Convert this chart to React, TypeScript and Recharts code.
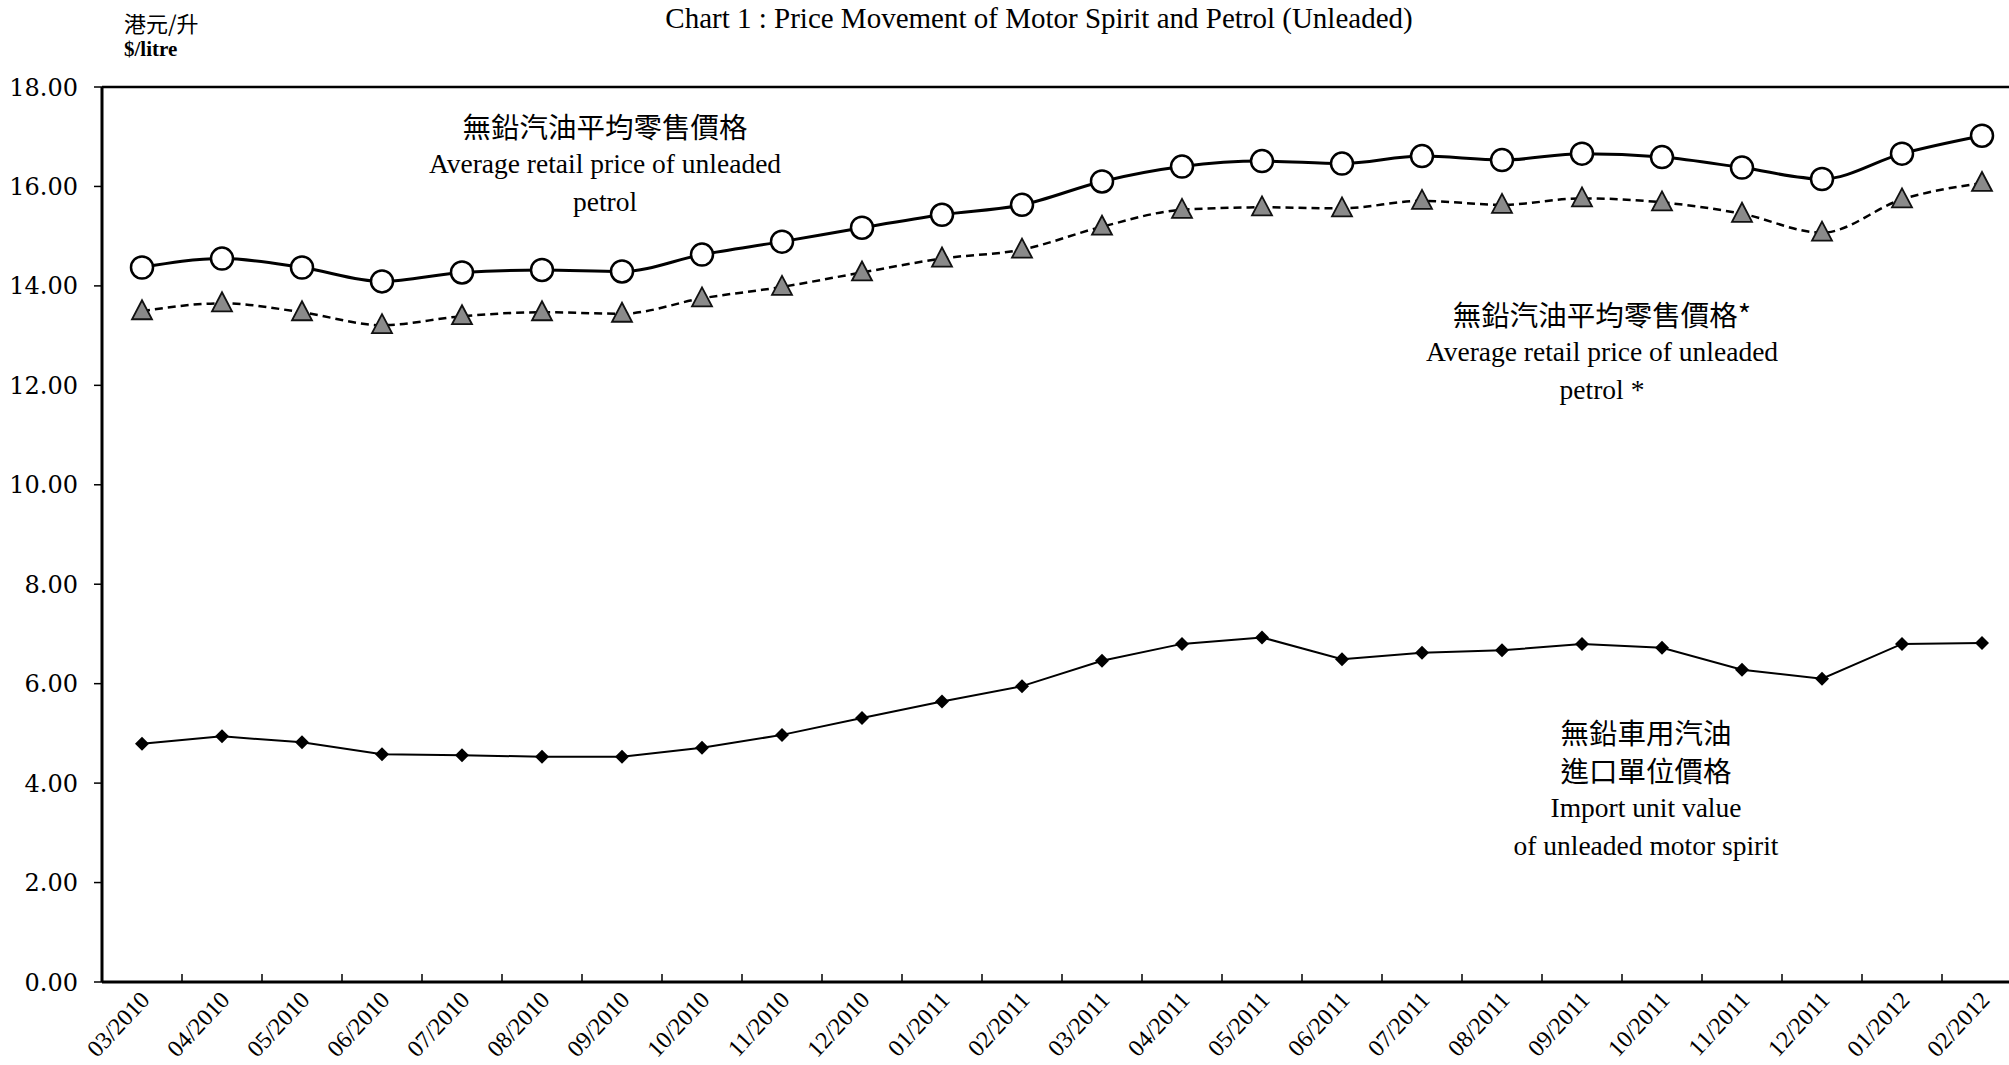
import React from 'react'
import {
  LineChart, Line, XAxis, YAxis, ReferenceLine,
} from 'recharts'

const months = [
  '03/2010', '04/2010', '05/2010', '06/2010', '07/2010', '08/2010', '09/2010', '10/2010',
  '11/2010', '12/2010', '01/2011', '02/2011', '03/2011', '04/2011', '05/2011', '06/2011',
  '07/2011', '08/2011', '09/2011', '10/2011', '11/2011', '12/2011', '01/2012', '02/2012',
]

// 無鉛汽油平均零售價格
const retailPrice = [
  14.37, 14.55, 14.37, 14.09, 14.27, 14.32, 14.29, 14.63,
  14.89, 15.17, 15.43, 15.63, 16.10, 16.40, 16.51, 16.46,
  16.61, 16.53, 16.66, 16.59, 16.38, 16.15, 16.66, 17.02,
]

// 無鉛汽油平均零售價格*
const retailPriceStar = [
  13.49, 13.65, 13.47, 13.21, 13.39, 13.47, 13.44, 13.75,
  13.98, 14.27, 14.55, 14.73, 15.19, 15.53, 15.58, 15.56,
  15.71, 15.63, 15.76, 15.68, 15.45, 15.07, 15.74, 16.07,
]

// 無鉛車用汽油進口單位價格
const importValue = [
  4.79, 4.94, 4.82, 4.58, 4.56, 4.53, 4.53, 4.71,
  4.97, 5.31, 5.64, 5.95, 6.46, 6.80, 6.93, 6.49,
  6.62, 6.67, 6.80, 6.72, 6.28, 6.10, 6.80, 6.82,
]

const yTicks = [0, 2, 4, 6, 8, 10, 12, 14, 16, 18]

const data = months.map((m, i) => ({
  month: m,
  retail: retailPrice[i],
  retailStar: retailPriceStar[i],
  imported: importValue[i],
}))

const CHART_W = 2030
const CHART_H = 1065
const Y_W = 102
const PLOT_W = CHART_W - Y_W - 8
const BAND = PLOT_W / months.length

const serif = '"Liberation Serif", "Times New Roman", serif'
const cjk = '"Noto Sans CJK TC", "Noto Sans CJK SC", sans-serif'

const MonthTick = (props: any) => {
  const { x, y, payload } = props
  const tx = x + 9
  const ty = y + 19
  return (
    <g>
      <line x1={x + BAND / 2} y1={y} x2={x + BAND / 2} y2={y - 8} stroke="#000" strokeWidth={1.5} />
      <text
        x={tx}
        y={ty}
        textAnchor="end"
        transform={`rotate(-47, ${tx}, ${ty})`}
        fontFamily={serif}
        fontSize={24}
        fill="#000"
      >
        {payload.value}
      </text>
    </g>
  )
}

const CircleDot = (props: any) => {
  const { cx, cy, index } = props
  if (cx == null || cy == null) return null
  return <circle key={`c-${index}`} cx={cx} cy={cy} r={11} fill="#fff" stroke="#000" strokeWidth={2.5} />
}

const TriangleDot = (props: any) => {
  const { cx, cy, index } = props
  if (cx == null || cy == null) return null
  return (
    <path
      key={`t-${index}`}
      d={`M${cx},${cy - 11} L${cx + 10},${cy + 8} L${cx - 10},${cy + 8} Z`}
      fill="#8a8a8a"
      stroke="#111"
      strokeWidth={1.8}
    />
  )
}

const DiamondDot = (props: any) => {
  const { cx, cy, index } = props
  if (cx == null || cy == null) return null
  return (
    <path
      key={`d-${index}`}
      d={`M${cx},${cy - 7} L${cx + 7},${cy} L${cx},${cy + 7} L${cx - 7},${cy} Z`}
      fill="#000"
    />
  )
}

const noteStyle: React.CSSProperties = {
  position: 'absolute', width: 600, textAlign: 'center',
  fontSize: 27.5, lineHeight: '38px', color: '#000', fontFamily: serif,
}

const cjkLine: React.CSSProperties = { fontFamily: cjk, fontSize: 28.5 }

export default function App() {
  return (
    <div style={{
      position: 'absolute', left: 0, top: 0, width: 2009, height: 1065,
      overflow: 'hidden', background: '#fff',
    }}>
      <LineChart
        width={CHART_W}
        height={CHART_H}
        data={data}
        margin={{ top: 87, right: 8, left: 0, bottom: 0 }}
      >
        <XAxis
          dataKey="month"
          height={83}
          padding={{ left: BAND / 2, right: BAND / 2 }}
          interval={0}
          tickLine={false}
          tickSize={0}
          tickMargin={0}
          axisLine={{ stroke: '#000', strokeWidth: 3 }}
          tick={<MonthTick />}
        />
        <YAxis
          width={Y_W}
          domain={[0, 18]}
          ticks={yTicks}
          interval={0}
          tickFormatter={(v: number) => v.toFixed(2)}
          tickSize={8}
          tickMargin={16}
          tickLine={{ stroke: '#000', strokeWidth: 1.5 }}
          axisLine={{ stroke: '#000', strokeWidth: 3 }}
          tick={{ fontFamily: '"DejaVu Serif", serif', fontSize: 24, fill: '#000' }}
        />
        <ReferenceLine y={18} stroke="#000" strokeWidth={2.5} />
        <Line
          type="monotone"
          dataKey="retailStar"
          stroke="#000"
          strokeWidth={2.5}
          strokeDasharray="8 5"
          dot={<TriangleDot />}
          isAnimationActive={false}
        />
        <Line
          type="monotone"
          dataKey="retail"
          stroke="#000"
          strokeWidth={3}
          dot={<CircleDot />}
          isAnimationActive={false}
        />
        <Line
          type="linear"
          dataKey="imported"
          stroke="#000"
          strokeWidth={2}
          dot={<DiamondDot />}
          isAnimationActive={false}
        />
      </LineChart>

      {/* 標題 */}
      <div style={{
        position: 'absolute', left: 539, top: 0, width: 1000, textAlign: 'center',
        fontFamily: serif, fontSize: 29, lineHeight: '36px', color: '#000',
      }}>
        Chart 1 : Price Movement of Motor Spirit and Petrol (Unleaded)
      </div>

      {/* 單位 */}
      <div style={{ position: 'absolute', left: 124, top: 9, fontFamily: cjk, fontSize: 22, lineHeight: '26px' }}>
        港元/升
      </div>
      <div style={{ position: 'absolute', left: 124, top: 36, fontFamily: serif, fontSize: 21, fontWeight: 700, lineHeight: '26px' }}>
        $/litre
      </div>

      {/* 註釋 */}
      <div style={{ ...noteStyle, left: 605 - 300, top: 107 }}>
        <div style={cjkLine}>無鉛汽油平均零售價格</div>
        <div>Average retail price of unleaded</div>
        <div>petrol</div>
      </div>
      <div style={{ ...noteStyle, left: 1602 - 300, top: 295 }}>
        <div style={cjkLine}>無鉛汽油平均零售價格*</div>
        <div>Average retail price of unleaded</div>
        <div>petrol *</div>
      </div>
      <div style={{ ...noteStyle, left: 1646 - 300, top: 713 }}>
        <div style={cjkLine}>無鉛車用汽油</div>
        <div style={cjkLine}>進口單位價格</div>
        <div>Import unit value</div>
        <div>of unleaded motor spirit</div>
      </div>
    </div>
  )
}
